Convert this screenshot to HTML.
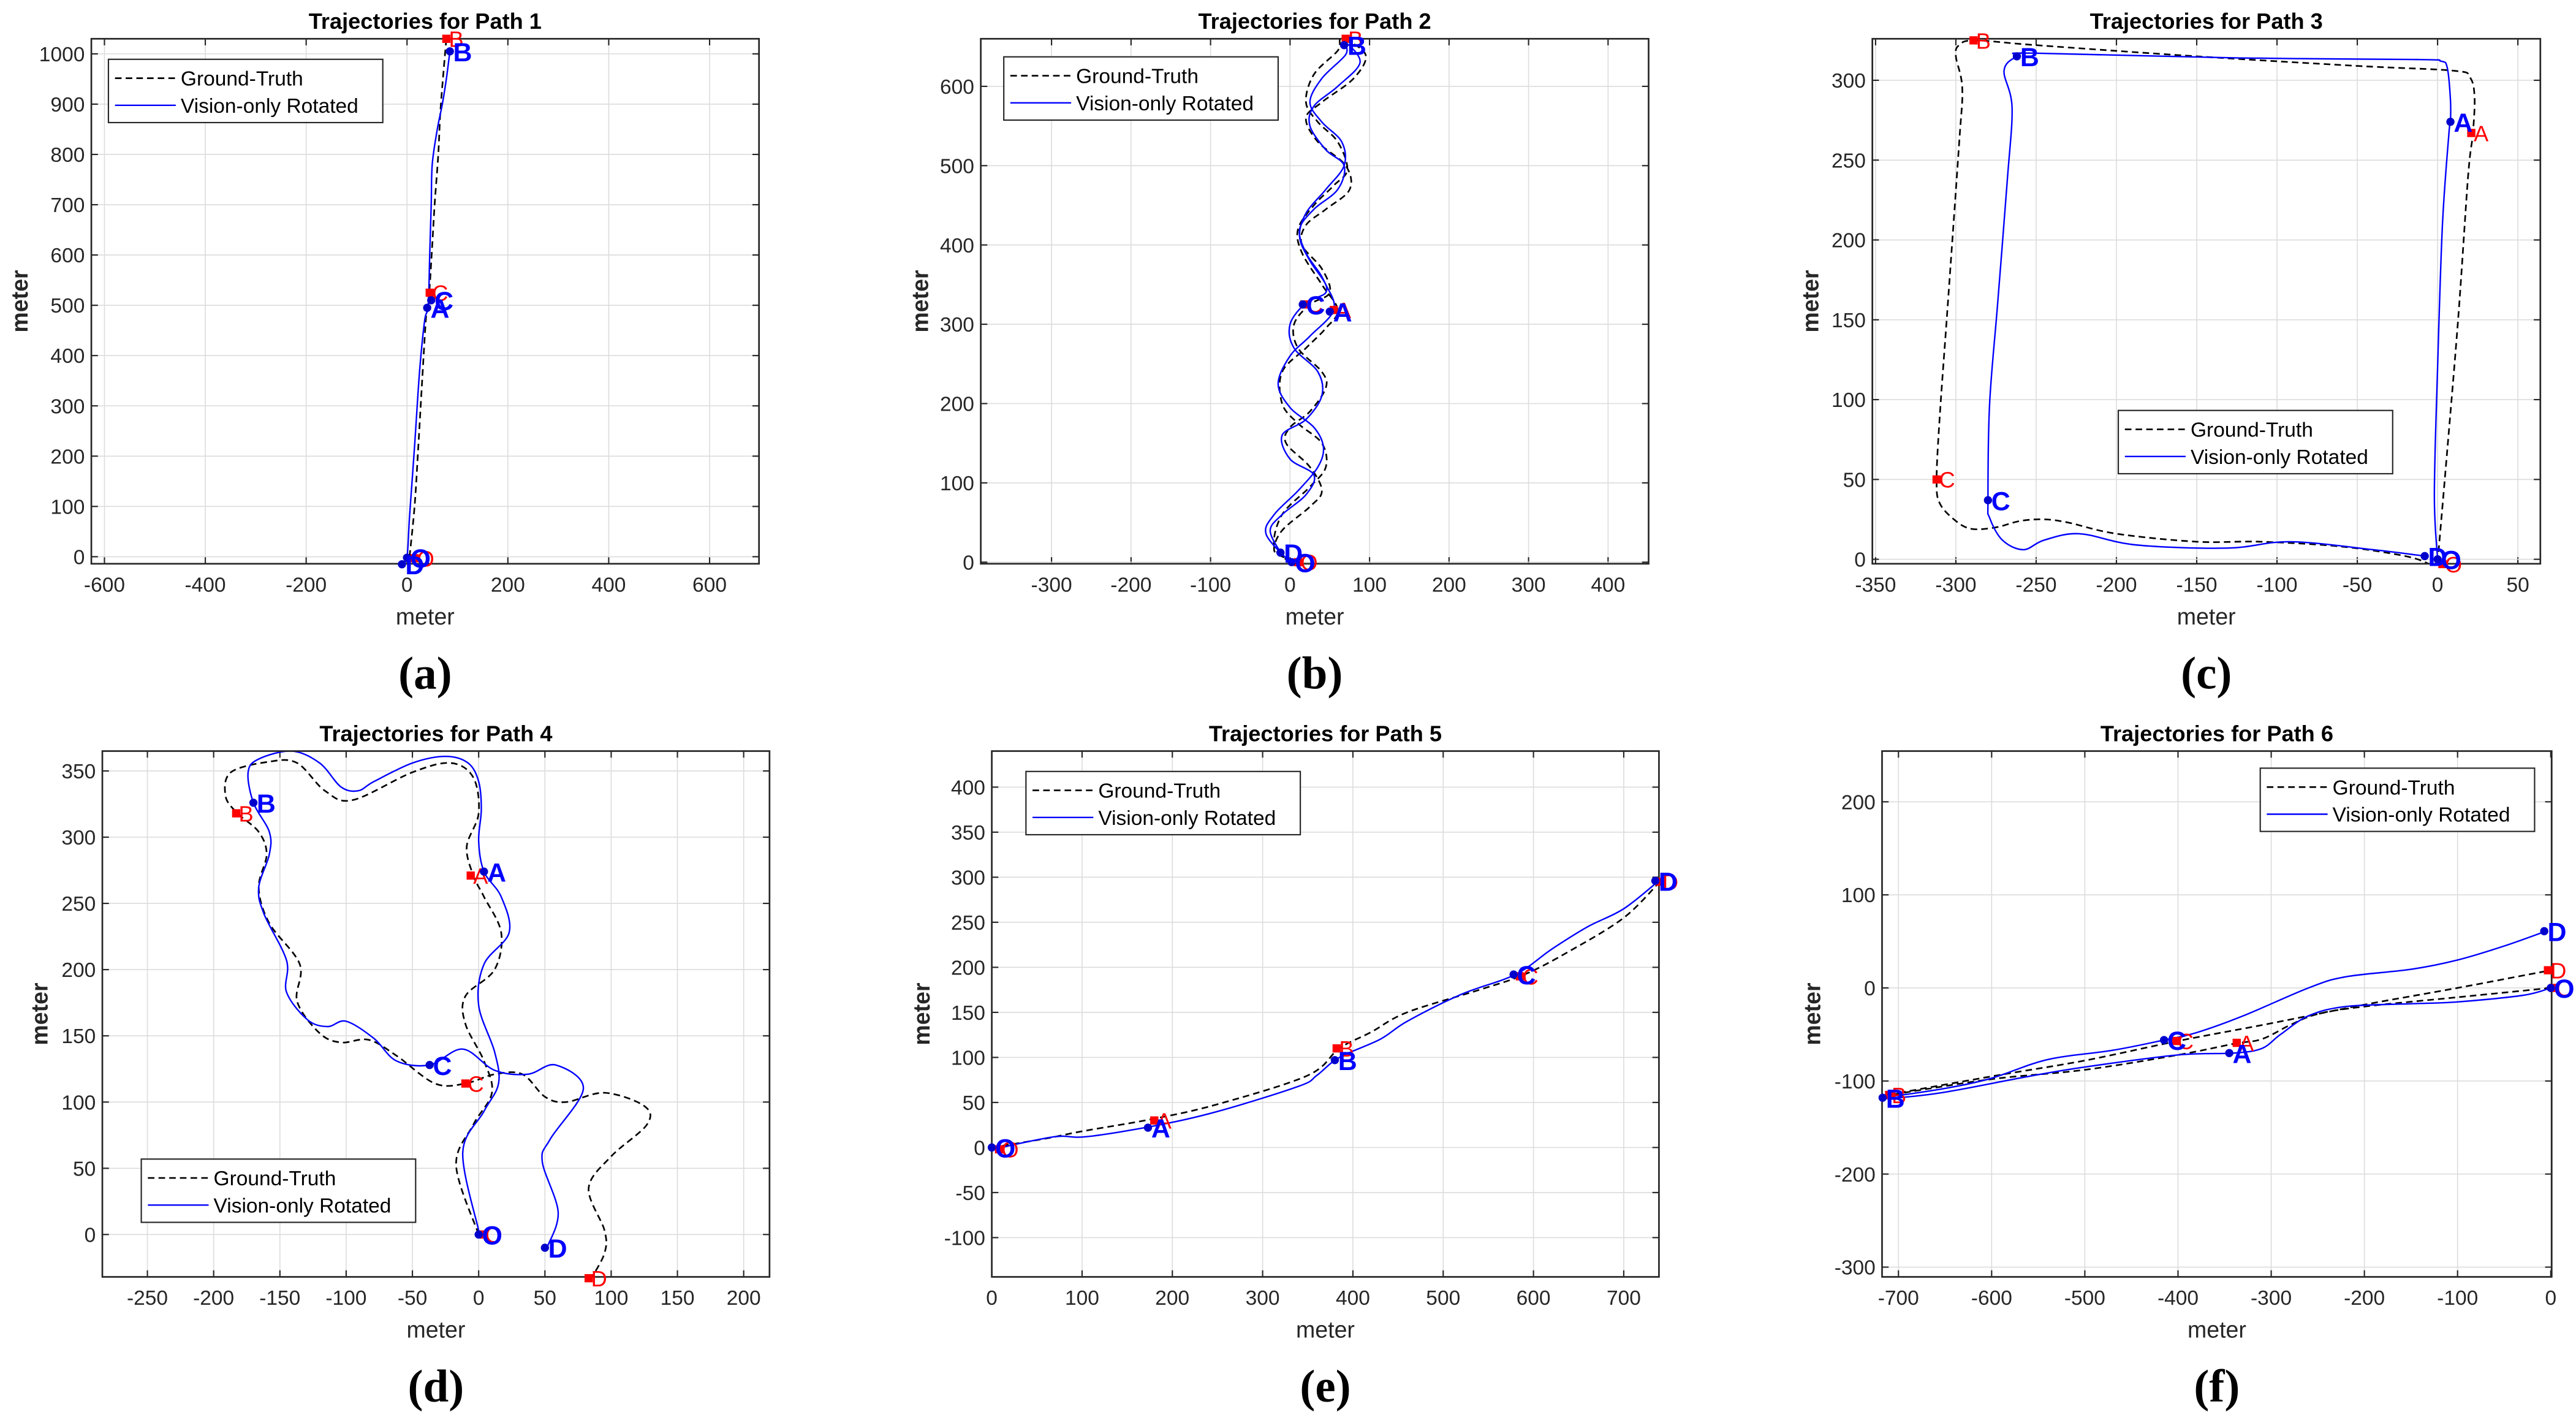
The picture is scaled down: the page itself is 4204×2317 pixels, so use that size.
<!DOCTYPE html>
<html><head><meta charset="utf-8"><style>
html,body{margin:0;padding:0;background:#fff}
svg{display:block}
text{font-family:"Liberation Sans",Arial,sans-serif}
</style></head><body>
<svg id="fig" xmlns="http://www.w3.org/2000/svg" width="4204" height="2317" viewBox="0 0 1568 864"></svg>
<script>
// ---------- DATA ----------
const titles = ["Trajectories for Path 1","Trajectories for Path 2","Trajectories for Path 3","Trajectories for Path 4","Trajectories for Path 5","Trajectories for Path 6"];
const captions = ["(a)","(b)","(c)","(d)","(e)","(f)"];
const xTicks = [[-600,-400,-200,0,200,400,600],[-300,-200,-100,0,100,200,300,400],[-350,-300,-250,-200,-150,-100,-50,0,50],[-250,-200,-150,-100,-50,0,50,100,150,200],[0,100,200,300,400,500,600,700],[-700,-600,-500,-400,-300,-200,-100,0]];
const yTicks = [[0,100,200,300,400,500,600,700,800,900,1000],[0,100,200,300,400,500,600],[0,50,100,150,200,250,300],[0,50,100,150,200,250,300,350],[-100,-50,0,50,100,150,200,250,300,350,400],[-300,-200,-100,0,100,200]];

const gt1 = [[5,0],[15,100],[22,212],[30,350],[38,480],[44,525],[50,620],[55,704],[62,800],[66,883],[72,960],[78,1030]];
const vo1 = [[-10,-15],[0,0],[5,80],[15,220],[25,370],[35,470],[42,500],[45,600],[48,700],[50,780],[60,850],[70,900],[78,950],[85,1005]];
const gt2 = [[0,0],[-20,20],[-10,60],[25,95],[45,120],[40,150],[10,175],[-10,200],[-10,240],[20,270],[45,295],[60,318],[40,350],[15,390],[10,420],[30,450],[55,475],[72,495],[60,530],[35,555],[20,580],[30,615],[60,645],[65,660],[95,640],[80,610],[40,580],[20,560],[35,530],[70,500],[75,470],[45,445],[20,425],[15,400],[40,370],[50,340],[25,325],[5,300],[10,270],[40,240],[45,220],[25,190],[0,170],[-5,150],[25,120],[40,90],[25,70],[-10,40],[-20,15],[-5,5]];
const vo2 = [[0,0],[-30,35],[-20,60],[10,90],[35,120],[42,145],[30,170],[0,195],[-15,225],[0,260],[25,285],[55,318],[45,350],[25,380],[12,410],[20,440],[45,470],[68,500],[65,530],[40,555],[25,580],[40,610],[70,640],[70,655],[88,630],[60,600],[30,575],[25,550],[45,520],[68,500],[60,470],[30,445],[12,420],[20,390],[40,360],[45,340],[20,327],[0,300],[5,270],[35,240],[40,210],[20,180],[-10,160],[0,130],[30,110],[20,85],[-10,60],[-25,40],[-12,12]];
const gt3 = [[0,-2],[6,68],[13,153],[19,240],[22,267],[23,290],[20,302],[10,306],[-50,309],[-150,315],[-250,322],[-288,325],[-298,322],[-300,315],[-296,295],[-298,260],[-305,160],[-310,90],[-312,50],[-310,35],[-300,24],[-290,19],[-275,20],[-260,24],[-245,25],[-230,23],[-200,16],[-150,11],[-110,11],[-60,8],[-20,2],[-5,-3]];
const vo3 = [[0,0],[-2,40],[0,120],[3,209],[7,266],[8,274],[8,288],[6,308],[2,312],[-13,313],[-124,314],[-252,317],[-262,315],[-270,306],[-265,283],[-268,237],[-274,160],[-279,97],[-280,37],[-279,26],[-271,12],[-258,6],[-245,12],[-223,16],[-188,9],[-131,7],[-92,11],[-40,6],[-8,2]];
const gt4 = [[0,0],[-17,52],[-4,83],[10,107],[4,131],[-10,159],[-10,180],[12,200],[17,228],[4,255],[-4,271],[-9,293],[0,318],[-4,345],[-21,356],[-50,349],[-95,328],[-116,335],[-137,356],[-158,357],[-187,349],[-191,331],[-182,318],[-166,304],[-160,287],[-166,262],[-158,235],[-135,204],[-137,176],[-120,152],[-104,145],[-83,147],[-62,135],[-33,114],[-10,114],[12,121],[33,121],[50,104],[66,100],[95,107],[125,97],[127,83],[100,59],[83,35],[95,3],[95,-14],[85,-33]];
const vo4 = [[0,3],[-12,62],[4,93],[15,114],[12,138],[0,173],[4,204],[23,228],[17,255],[4,274],[0,297],[2,321],[0,342],[-8,356],[-25,361],[-50,356],[-79,342],[-91,335],[-104,338],[-120,356],[-141,365],[-166,359],[-174,349],[-170,326],[-158,304],[-158,287],[-166,262],[-162,242],[-145,207],[-145,183],[-129,162],[-114,157],[-100,161],[-79,148],[-62,131],[-37,128],[-12,140],[12,124],[37,121],[58,128],[79,110],[54,72],[48,55],[60,17],[52,-9]];
const gt5 = [[0,0],[60,10],[100,18],[180,32],[250,48],[350,80],[385,110],[420,128],[460,150],[540,175],[590,192],[640,218],[700,255],[740,295]];
const vo5 = [[10,0],[70,12],[105,12],[180,24],[250,40],[340,68],[360,80],[385,100],[430,120],[460,140],[520,170],[580,192],[620,220],[660,245],[700,265],[740,297]];
const gt6 = [[0,0],[-100,-10],[-200,-20],[-250,-28],[-280,-40],[-310,-55],[-340,-60],[-400,-72],[-500,-88],[-600,-98],[-710,-115],[-600,-95],[-500,-78],[-400,-57],[-300,-38],[-200,-18],[-100,0],[0,19]];
const vo6 = [[0,0],[-30,-8],[-100,-15],[-150,-17],[-220,-20],[-260,-30],[-290,-50],[-310,-65],[-340,-70],[-400,-72],[-500,-85],[-560,-95],[-650,-112],[-700,-118],[-715,-118],[-650,-108],[-600,-97],[-540,-77],[-470,-67],[-415,-56],[-380,-48],[-330,-30],[-260,0],[-220,12],[-150,20],[-100,30],[-50,45],[-5,61]];
const gtSeries = [gt1,gt2,gt3,gt4,gt5,gt6];
const voSeries = [vo1,vo2,vo3,vo4,vo5,vo6];
// markers: [x, y, label]
const gtMarks = [
 [[15,-3,"O"],[78,1030,"B"],[45,525,"C"]],
 [[10,0,"O"],[70,660,"B"],[55,318,"A"],[18,325,"C"]],
 [[3,-3,"O"],[21,267,"A"],[-289,325,"B"],[-312,50,"C"]],
 [[3,0,"O"],[-6,271,"A"],[-183,318,"B"],[-10,114,"C"],[83,-33,"D"]],
 [[8,-2,"O"],[180,30,"A"],[382,110,"B"],[585,190,"C"],[740,295,"D"]],
 [[3,0,"O"],[-337,-59,"A"],[-710,-115,"B"],[-403,-57,"C"],[-3,19,"D"]]
];
const voMarks = [
 [[0,-2,"O"],[85,1005,"B"],[40,495,"A"],[48,510,"C"],[-10,-15,"D"]],
 [[2,0,"O"],[68,652,"B"],[50,316,"A"],[16,325,"C"],[-12,12,"D"]],
 [[0,0,"O"],[8,274,"A"],[-262,315,"B"],[-280,37,"C"],[-8,2,"D"]],
 [[0,0,"O"],[4,274,"A"],[-170,326,"B"],[-37,128,"C"],[50,-10,"D"]],
 [[0,0,"O"],[173,22,"A"],[380,97,"B"],[578,192,"C"],[735,296,"D"]],
 [[0,0,"O"],[-345,-70,"A"],[-717,-118,"B"],[-415,-56,"C"],[-7,61,"D"]]
];
// ---------- LAYOUT ----------
const boxes = [[55.6,23.5,462,343],[597,23.5,1003.5,343],[1139.7,23.5,1546.3,343],[62.3,457,468.4,777],[603.7,457,1009.8,777],[1145.6,457,1553.2,777]];
const xr = [[-626,698],[-389,451],[-352,64],[-284,219.5],[0,739],[-717.6,1]];
const yr = [[-14,1030],[-2,660],[-2.8,326],[-32,365],[-143.6,440],[-310.5,254.5]];
const legendPos = [[66,36],[611,34.5],[1289.4,249.7],[86,705.3],[624.5,469.4],[1375.8,467.4]];
const ylabX = [12,560,1102,24,561,1103];

const NS="http://www.w3.org/2000/svg";
const svg=document.getElementById('fig');
function mk(tag,attrs,parent){const e=document.createElementNS(NS,tag);for(const k in attrs)e.setAttribute(k,attrs[k]);(parent||svg).appendChild(e);return e;}
function smooth(pts){
  if(pts.length<3)return pts.map((q,i)=>(i?'L':'M')+q[0]+','+q[1]).join(' ');
  let d='M'+pts[0][0].toFixed(2)+','+pts[0][1].toFixed(2);
  for(let i=0;i<pts.length-1;i++){
    const p0=pts[Math.max(0,i-1)],p1=pts[i],p2=pts[i+1],p3=pts[Math.min(pts.length-1,i+2)];
    const c1x=p1[0]+(p2[0]-p0[0])/6,c1y=p1[1]+(p2[1]-p0[1])/6;
    const c2x=p2[0]-(p3[0]-p1[0])/6,c2y=p2[1]-(p3[1]-p1[1])/6;
    d+=' C'+c1x.toFixed(2)+','+c1y.toFixed(2)+' '+c2x.toFixed(2)+','+c2y.toFixed(2)+' '+p2[0].toFixed(2)+','+p2[1].toFixed(2);
  }
  return d;
}

for(let p=0;p<6;p++){
  const [L,T,R,B]=boxes[p];
  const sx=v=>L+(v-xr[p][0])/(xr[p][1]-xr[p][0])*(R-L);
  const sy=v=>B-(v-yr[p][0])/(yr[p][1]-yr[p][0])*(B-T);
  const g=mk('g',{});
  
  
  mk('rect',{x:L,y:T,width:R-L,height:B-T,fill:'#fff'},g);
  xTicks[p].forEach(t=>{const x=sx(t);
    const gl=mk('line',{x1:x,x2:x,y1:T,y2:B,stroke:'#dcdcdc','stroke-width':0.6},g);
    
    
    mk('line',{x1:x,x2:x,y1:B,y2:B-4,stroke:'#262626','stroke-width':0.8},g);
    mk('line',{x1:x,x2:x,y1:T,y2:T+4,stroke:'#262626','stroke-width':0.8},g);
    const tl=mk('text',{x:x,y:B+17,'font-size':12.5,'text-anchor':'middle',fill:'#262626'},g);
    tl.textContent=t;
    
    
  });
  yTicks[p].forEach(t=>{const y=sy(t);
    const gl=mk('line',{x1:L,x2:R,y1:y,y2:y,stroke:'#dcdcdc','stroke-width':0.6},g);
    
    
    mk('line',{x1:L,x2:L+4,y1:y,y2:y,stroke:'#262626','stroke-width':0.8},g);
    mk('line',{x1:R,x2:R-4,y1:y,y2:y,stroke:'#262626','stroke-width':0.8},g);
    const tl=mk('text',{x:L-4,y:y+4.5,'font-size':12.5,'text-anchor':'end',fill:'#262626'},g);
    tl.textContent=t;
    
    
  });
  const cp=mk('clipPath',{id:'cp'+p},g);mk('rect',{x:L,y:T,width:R-L,height:B-T},cp);
  const cg=mk('g',{'clip-path':'url(#cp'+p+')'},g);
  const toPath=arr=>smooth(arr.map(d=>[sx(d[0]),sy(d[1])]));
  const gp=mk('path',{d:toPath(gtSeries[p]),fill:'none',stroke:'#000','stroke-width':1,'stroke-dasharray':'4,2.5','stroke-linejoin':'round'},cg);
  
  
  const vp=mk('path',{d:toPath(voSeries[p]),fill:'none',stroke:'#0000ff','stroke-width':0.9,'stroke-linejoin':'round'},cg);
  
  
  mk('rect',{x:L,y:T,width:R-L,height:B-T,fill:'none',stroke:'#262626','stroke-width':1},g);
  gtMarks[p].forEach(m=>{const x=sx(m[0]),y=sy(m[1]);
    mk('rect',{x:x-2.5,y:y-2.5,width:5,height:5,fill:'#ff0000'},g);
    const t=mk('text',{x:x+1.5,y:y+5,'font-size':13.5,fill:'#ff0000'},g);t.textContent=m[2];
    
    
  });
  voMarks[p].forEach(m=>{const x=sx(m[0]),y=sy(m[1]);
    mk('circle',{cx:x,cy:y,r:2.5,fill:'#0000cc'},g);
    const t=mk('text',{x:x+2,y:y+6,'font-size':16,'font-weight':'bold',fill:'#0000ff'},g);t.textContent=m[2];
    
    
  });
  const [lx,ly]=legendPos[p];
  const lg=mk('g',{},g);
  
  
  mk('rect',{x:lx,y:ly,width:167,height:38.5,fill:'#fff',stroke:'#262626','stroke-width':0.8},lg);
  mk('line',{x1:lx+4,x2:lx+41,y1:ly+11.5,y2:ly+11.5,stroke:'#000','stroke-width':1,'stroke-dasharray':'4,2.5'},lg);
  mk('line',{x1:lx+4,x2:lx+41,y1:ly+28,y2:ly+28,stroke:'#0000ff','stroke-width':0.9},lg);
  const e1=mk('text',{x:lx+44,y:ly+16,'font-size':12.5,fill:'#000'},lg);e1.textContent='Ground-Truth';
  
  
  const e2=mk('text',{x:lx+44,y:ly+32.5,'font-size':12.5,fill:'#000'},lg);e2.textContent='Vision-only Rotated';
  
  
  const cx=(L+R)/2;
  const ti=mk('text',{x:cx,y:T-6,'font-size':13.5,'font-weight':'bold','text-anchor':'middle',fill:'#000'},g);ti.textContent=titles[p];
  
  
  const xl=mk('text',{x:cx,y:B+37,'font-size':14,'text-anchor':'middle',fill:'#262626'},g);xl.textContent='meter';
  
  
  const cy=(T+B)/2;
  const yl=mk('text',{x:ylabX[p],y:cy,'font-size':14,'font-weight':'bold','text-anchor':'middle',fill:'#262626',transform:'rotate(-90 '+ylabX[p]+' '+cy+')','dominant-baseline':'central'},g);yl.textContent='meter';
  
  
  const cap=mk('text',{x:cx,y:B+76,'font-size':28,'font-weight':'bold','text-anchor':'middle',fill:'#000'},g);cap.textContent=captions[p];
  cap.style.fontFamily='"Liberation Serif",serif';
  
  
}
</script>
</body></html>
